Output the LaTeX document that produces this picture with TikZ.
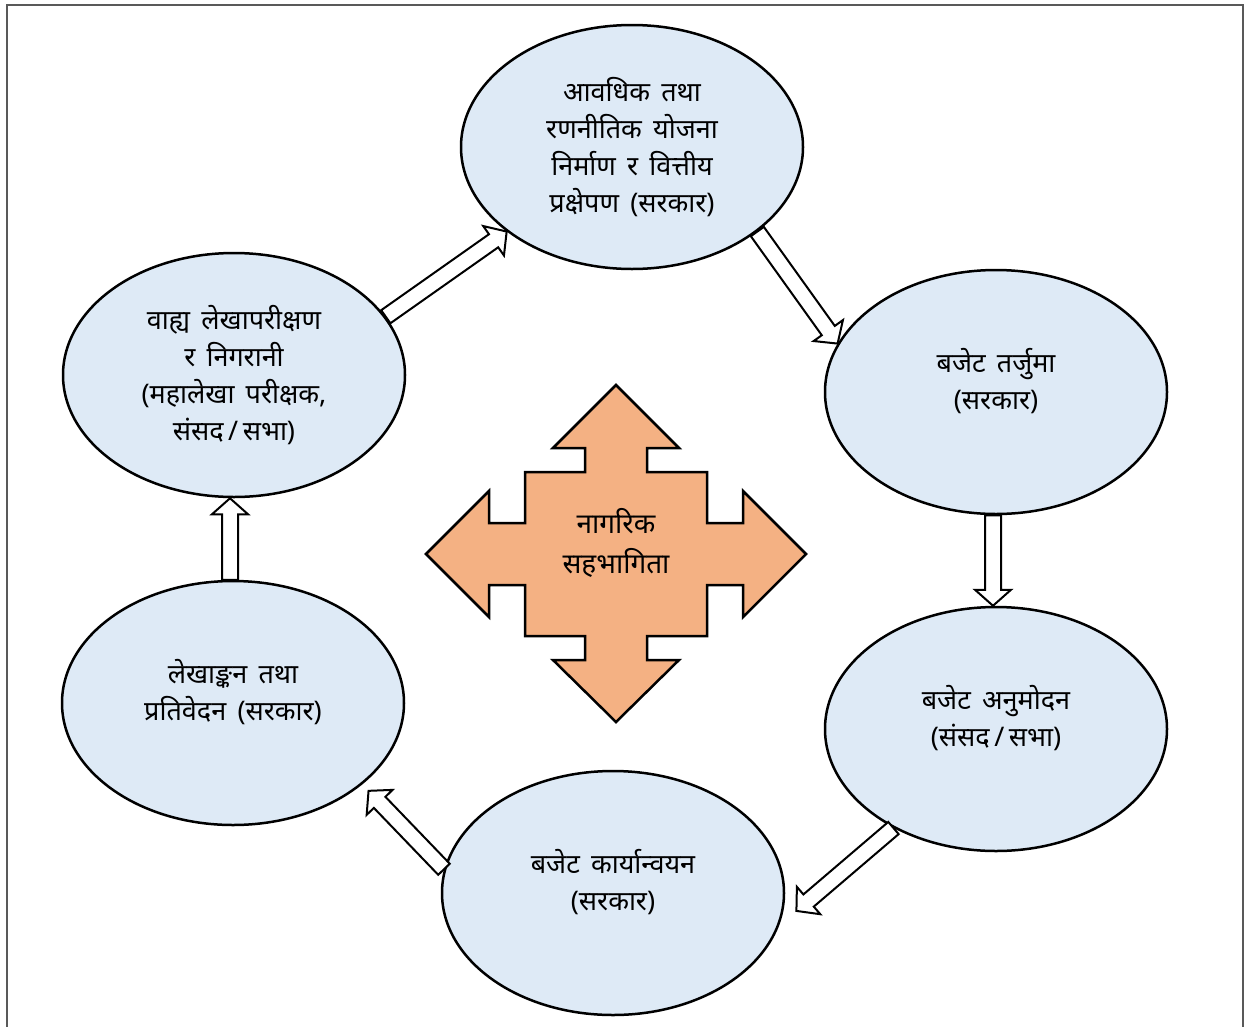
\documentclass[tikz,border=0pt]{standalone}
\usepackage{fontspec}
\newfontfamily\deva[Script=Devanagari,WordSpace=1.6]{Noto Sans}
\usetikzlibrary{calc,shapes.geometric}
\definecolor{EllFill}{RGB}{222,234,246}
\definecolor{CrossFill}{RGB}{244,177,131}
\definecolor{FrameGray}{RGB}{89,89,89}
\newcommand\BlkArrow[2]{\draw[ArrStyle] ($(#1)!8pt!90:(#2)$)
  -- ($(#2)!16pt!(#1)!8pt!-90:(#1)$) -- ($(#2)!16pt!(#1)!18pt!-90:(#1)$) -- (#2)
  -- ($(#2)!16pt!(#1)!18pt!90:(#1)$) -- ($(#2)!16pt!(#1)!8pt!90:(#1)$)
  -- ($(#1)!8pt!-90:(#2)$) -- cycle;}

\begin{document}
\begin{tikzpicture}[x=1pt, y=-1pt,
EllStyle/.style={ellipse, draw, line width=2.5pt, fill=EllFill, inner sep=0pt,
                minimum width=342pt, minimum height=244pt, align=center,
                font=\fontsize{27}{37}\selectfont\deva},
TwoLine/.style={text depth=27pt},
ArrStyle/.style={draw, fill=white, line width=2pt, line join=miter},
CrossStyle/.style={draw, fill=CrossFill, line width=2.5pt, line join=miter},]
\useasboundingbox (0,0) rectangle (1248,1026);
\draw[FrameGray, line width=2pt] (7,1040) -- (7,5) -- (1243,5) -- (1243,1040);

\node [EllStyle] (plan) at (632,147) {आवधिक तथा\\रणनीतिक योजना\\निर्माण र वित्तीय\\प्रक्षेपण (सरकार)};
\node [EllStyle, TwoLine] (draft) at (996,392) {बजेट तर्जुमा\\(सरकार)};
\node [EllStyle, TwoLine] (appr) at (996,729) {बजेट अनुमोदन\\(संसद\,/\,सभा)};
\node [EllStyle, TwoLine] (impl) at (613,893) {बजेट कार्यान्वयन\\(सरकार)};
\node [EllStyle, TwoLine] (acct) at (233,703) {लेखाङ्कन तथा\\प्रतिवेदन (सरकार)};
\node [EllStyle] (audit) at (234,375) {वाह्य लेखापरीक्षण\\र निगरानी\\(महालेखा परीक्षक,\\संसद\,/\,सभा)};

\coordinate (implTip) at ([xshift=13pt]impl.354);
\coordinate (acctTip) at ([shift={(8,5)}]acct.327);
\coordinate (draftOut) at ([xshift=-3pt]draft.south);
\coordinate (acctOut) at ([xshift=-3pt]acct.north);
\BlkArrow{audit.21}{plan.214}
\BlkArrow{plan.326}{draft.163}
\BlkArrow{draftOut}{draftOut |- appr.north}
\BlkArrow{appr.224}{implTip}
\BlkArrow{impl.172}{acctTip}
\BlkArrow{acctOut}{acctOut |- audit.south}

\begin{scope}[shift={(616,554)}]
\draw[CrossStyle] (0,-169) -- (63,-106) -- (31,-106) -- (31,-82) -- (91,-82) -- (91,-31)
  -- (127,-31) -- (127,-63) -- (190,0) -- (127,63) -- (127,31) -- (91,31) -- (91,82)
  -- (31,82) -- (31,106) -- (63,106) -- (0,168) -- (-63,106) -- (-31,106) -- (-31,82)
  -- (-91,82) -- (-91,31) -- (-127,31) -- (-127,63) -- (-190,0) -- (-127,-63)
  -- (-127,-31) -- (-91,-31) -- (-91,-82) -- (-31,-82) -- (-31,-106) -- (-63,-106) -- cycle;
\end{scope}
\node [align=center, font=\fontsize{28}{40}\selectfont\deva] (cit) at (616,543) {नागरिक\\सहभागिता};
\end{tikzpicture}
\end{document}
